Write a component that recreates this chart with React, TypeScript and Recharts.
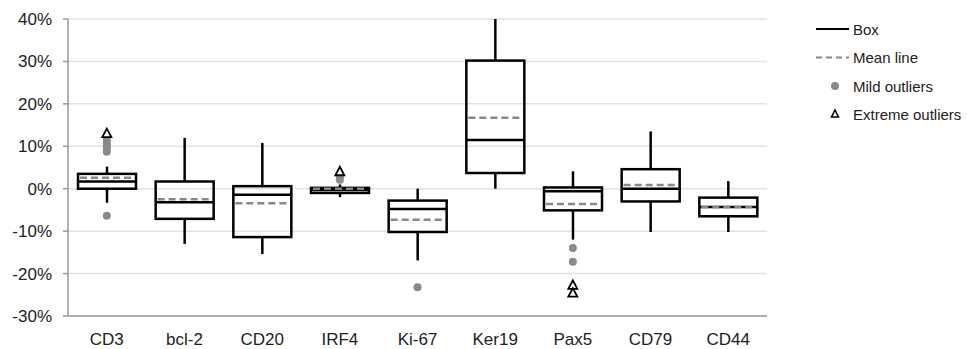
import React from "react";
import {
  ComposedChart,
  Bar,
  Scatter,
  XAxis,
  YAxis,
  CartesianGrid,
  Legend,
} from "recharts";

const categories = ["CD3", "bcl-2", "CD20", "IRF4", "Ki-67", "Ker19", "Pax5", "CD79", "CD44"];
const whiskerLow = [-3.3, -13, -15.4, -2, -16.9, 0, -12, -10.2, -10.2];
const q1 = [0, -7.1, -11.4, -1, -10.2, 3.7, -5.1, -3, -6.5];
const median = [1.7, -3.2, -1.4, -0.3, -4.8, 11.5, -0.6, 0, -4.3];
const q3 = [3.5, 1.7, 0.6, 0.2, -2.8, 30.2, 0.3, 4.6, -2.1];
const whiskerHigh = [5.2, 12, 10.8, 1, 0, 40, 4.1, 13.5, 1.8];
const means = [2.6, -2.5, -3.4, 0, -7.3, 16.7, -3.6, 0.9, -4.3];

const mildOutliers = [
  { name: "CD3", v: -6.4 },
  { name: "CD3", v: 8.7 },
  { name: "CD3", v: 9.4 },
  { name: "CD3", v: 10.1 },
  { name: "CD3", v: 10.8 },
  { name: "CD3", v: 11.5 },
  { name: "IRF4", v: 2.1 },
  { name: "IRF4", v: 2.8 },
  { name: "Ki-67", v: -23.2 },
  { name: "Pax5", v: -14 },
  { name: "Pax5", v: -17.2 },
];
const extremeOutliers = [
  { name: "CD3", v: 13 },
  { name: "IRF4", v: 4 },
  { name: "Pax5", v: -22.8 },
  { name: "Pax5", v: -24.6 },
];

const yTicks = [-30, -20, -10, 0, 10, 20, 30, 40];
const boundaryTicks = [0, 1, 2, 3, 4, 5, 6, 7, 8, 9];

const data = categories.map((name, i) => ({
  name,
  range: [whiskerLow[i], whiskerHigh[i]],
  lo: whiskerLow[i],
  q1: q1[i],
  med: median[i],
  q3: q3[i],
  hi: whiskerHigh[i],
  mean: means[i],
}));

const font = "'Liberation Sans', Arial, sans-serif";

function BoxShape(props: any) {
  const { x, y, width, height, payload } = props;
  const { lo, hi } = payload;
  const py = (v: number) => y + ((hi - v) / (hi - lo)) * height;
  const cx = x + width / 2;
  const sw = 2.5;
  return (
    <g>
      <line x1={cx} x2={cx} y1={py(hi)} y2={py(payload.q3)} stroke="#000" strokeWidth={sw} />
      <line x1={cx} x2={cx} y1={py(payload.q1)} y2={py(lo)} stroke="#000" strokeWidth={sw} />
      <rect
        x={x}
        y={py(payload.q3)}
        width={width}
        height={Math.max(py(payload.q1) - py(payload.q3), 1)}
        fill="none"
        stroke="#000"
        strokeWidth={sw}
      />
      <line x1={x} x2={x + width} y1={py(payload.med)} y2={py(payload.med)} stroke="#000" strokeWidth={sw} />
      <line
        x1={x + 2}
        x2={x + width - 2}
        y1={py(payload.mean)}
        y2={py(payload.mean)}
        stroke="#888"
        strokeWidth={2.5}
        strokeDasharray="7 4"
      />
    </g>
  );
}

function MildDot(props: any) {
  const { cx, cy } = props;
  return <circle cx={cx} cy={cy} r={4} fill="#8a8a8a" />;
}

function Triangle(props: any) {
  const { cx, cy } = props;
  return (
    <path
      d={`M${cx},${cy - 5} L${cx + 4.5},${cy + 3.5} L${cx - 4.5},${cy + 3.5} Z`}
      fill="#fff"
      stroke="#000"
      strokeWidth={1.8}
    />
  );
}

function LegendBox() {
  const items = ["Box", "Mean line", "Mild outliers", "Extreme outliers"];
  return (
    <svg width={160} height={110} style={{ overflow: "visible" }}>
      <line x1={4} x2={37} y1={11} y2={11} stroke="#000" strokeWidth={2.2} />
      <line x1={4} x2={37} y1={39.5} y2={39.5} stroke="#888" strokeWidth={2.2} strokeDasharray="6 4" />
      <circle cx={23} cy={68} r={4} fill="#8a8a8a" />
      <path d="M23,92 L26.5,99 L19.5,99 Z" fill="#fff" stroke="#000" strokeWidth={1.5} />
      {items.map((t, i) => (
        <text key={t} x={41} y={16.5 + i * 28.5} fontSize={15} fill="#222" fontFamily={font}>
          {t}
        </text>
      ))}
    </svg>
  );
}

export default function App() {
  return (
    <div style={{ position: "absolute", left: 0, top: 0, background: "#fff" }}>
      <ComposedChart
        width={967}
        height={349}
        data={data}
        margin={{ top: 19, right: 40, bottom: 0, left: 0 }}
      >
        <CartesianGrid vertical={false} stroke="#e2e2e2" strokeWidth={1.5} />
        <XAxis
          xAxisId="b"
          type="number"
          domain={[0, 9]}
          ticks={boundaryTicks}
          tick={() => <g />}
          tickLine={{ stroke: "#999", strokeWidth: 1.5 }}
          tickSize={5}
          axisLine={false}
          height={0}
        />
        <XAxis
          xAxisId="cat"
          dataKey="name"
          type="category"
          allowDuplicatedCategory={false}
          height={33}
          tickLine={false}
          tickSize={0}
          axisLine={{ stroke: "#999", strokeWidth: 1.5 }}
          tickMargin={17}
          tick={{ fontSize: 17, fill: "#222", fontFamily: font }}
        />
        <YAxis
          domain={[-30, 40]}
          ticks={yTicks}
          width={68}
          tickFormatter={(v) => `${v}%`}
          tickSize={5}
          tickMargin={11}
          tickLine={{ stroke: "#999", strokeWidth: 1.5 }}
          axisLine={{ stroke: "#999", strokeWidth: 1.5 }}
          tick={{ fontSize: 17, fill: "#222", fontFamily: font }}
          interval={0}
        />
        <Bar
          xAxisId="cat"
          dataKey="range"
          barSize={58}
          shape={<BoxShape />}
          isAnimationActive={false}
        />
        <Scatter
          xAxisId="cat"
          data={mildOutliers}
          dataKey="v"
          shape={<MildDot />}
          isAnimationActive={false}
        />
        <Scatter
          xAxisId="cat"
          data={extremeOutliers}
          dataKey="v"
          shape={<Triangle />}
          isAnimationActive={false}
        />
        <Legend
          layout="vertical"
          verticalAlign="top"
          align="right"
          wrapperStyle={{ position: "absolute", left: 812, top: 18, width: 160 }}
          content={() => <LegendBox />}
        />
      </ComposedChart>
    </div>
  );
}
